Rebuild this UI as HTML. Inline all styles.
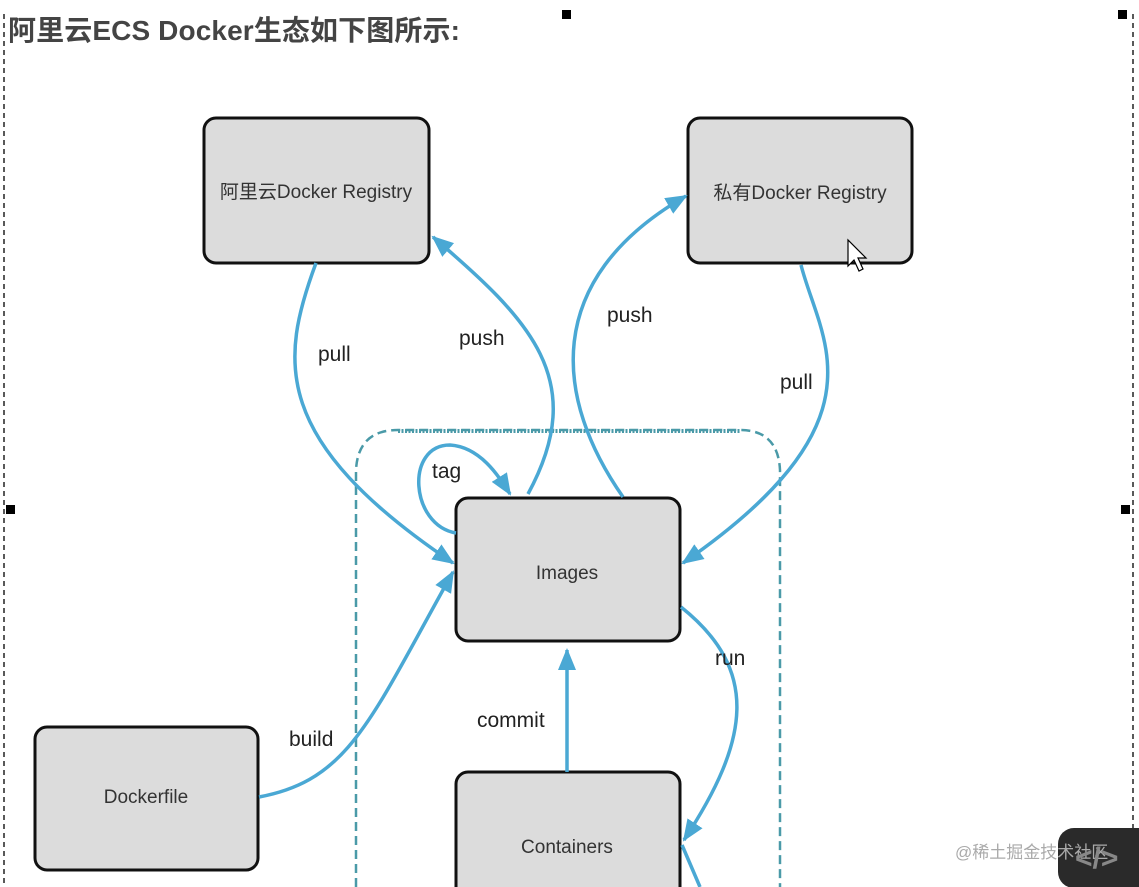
<!DOCTYPE html>
<html><head><meta charset="utf-8"><style>
html,body{margin:0;padding:0;background:#fff;}
svg{display:block;}
</style></head><body>
<svg width="1139" height="887" viewBox="0 0 1139 887" xmlns="http://www.w3.org/2000/svg">
<defs>
<marker id="b" markerWidth="22" markerHeight="22" refX="20" refY="11" orient="auto" markerUnits="userSpaceOnUse">
<path d="M0,2 L22,11 L0,20 Z" fill="#4aa8d4"/></marker>
</defs>
<line x1="4" y1="14" x2="4" y2="887" stroke="#222" stroke-width="1.5" stroke-dasharray="5,4"/>
<line x1="1133" y1="14" x2="1133" y2="830" stroke="#222" stroke-width="1.5" stroke-dasharray="5,4"/>
<rect x="562" y="10" width="9" height="9" fill="#000"/>
<rect x="1118" y="10" width="9" height="9" fill="#000"/>
<rect x="6" y="505" width="9" height="9" fill="#000"/>
<rect x="1121" y="505" width="9" height="9" fill="#000"/>
<text x="8" y="40" font-family="Liberation Sans, Noto Sans CJK SC, sans-serif" font-size="28" font-weight="bold" fill="#444" textLength="452">阿里云ECS Docker生态如下图所示:</text>
<path d="M356,887 L356,470 Q358,430 398,430 L740,430 Q778,430 780,470 L780,887" fill="none" stroke="#4a9aa8" stroke-width="2.5" stroke-dasharray="9,5"/>
<line x1="398" y1="431" x2="740" y2="431" stroke="#4a9aa8" stroke-width="4" stroke-dasharray="2,1.5"/>
<g fill="#dcdcdc" stroke="#111" stroke-width="3">
<rect x="204" y="118" width="225" height="145" rx="12"/>
<rect x="688" y="118" width="224" height="145" rx="12"/>
<rect x="456" y="498" width="224" height="143" rx="12"/>
<rect x="456" y="772" width="224" height="140" rx="12"/>
<rect x="35" y="727" width="223" height="143" rx="12"/>
</g>
<g font-family="Liberation Sans, Noto Sans CJK SC, sans-serif" fill="#333" text-anchor="middle">
<text x="316" y="198" font-size="19">阿里云Docker Registry</text>
<text x="800" y="199" font-size="19">私有Docker Registry</text>
<text x="567" y="579" font-size="19">Images</text>
<text x="567" y="853" font-size="19">Containers</text>
<text x="146" y="803" font-size="19">Dockerfile</text>
</g>
<g fill="none" stroke="#4aa8d4" stroke-width="3.5">
<path d="M316,263 C280,360 270,440 453,563" marker-end="url(#b)"/>
<path d="M528,494 C590,380 530,320 433,237" marker-end="url(#b)"/>
<path d="M623,497 C555,400 540,280 686,196" marker-end="url(#b)"/>
<path d="M801,265 C820,340 890,420 683,563" marker-end="url(#b)"/>
<path d="M456,533 C410,525 405,445 450,445 C480,447 498,475 510,494" marker-end="url(#b)"/>
<path d="M259,797 C350,780 370,720 453,572" marker-end="url(#b)"/>
<path d="M567,772 L567,650" marker-end="url(#b)"/>
<path d="M681,607 C760,670 750,740 684,840" marker-end="url(#b)"/>
<path d="M682,845 L700,887"/>
</g>
<g font-family="Liberation Sans, sans-serif" font-size="21" fill="#222">
<text x="318" y="361">pull</text>
<text x="459" y="345">push</text>
<text x="607" y="322">push</text>
<text x="780" y="389">pull</text>
<text x="432" y="478">tag</text>
<text x="289" y="746">build</text>
<text x="477" y="727">commit</text>
<text x="715" y="665">run</text>
</g>
<path d="M848,240 L848,266 L854,260 L859,271 L863,269 L858,258 L866,258 Z" fill="#fff" stroke="#000" stroke-width="1.2"/>
<rect x="1058" y="828" width="100" height="60" rx="16" fill="#2a2a2a"/>
<text x="955" y="858" font-family="Liberation Sans, Noto Sans CJK SC, sans-serif" font-size="17" fill="#aaa">@稀土掘金技术社区</text>
<text x="1075" y="868" font-family="Liberation Sans, sans-serif" font-size="30" font-weight="bold" fill="#888">&lt;/&gt;</text>
</svg>
</body></html>
